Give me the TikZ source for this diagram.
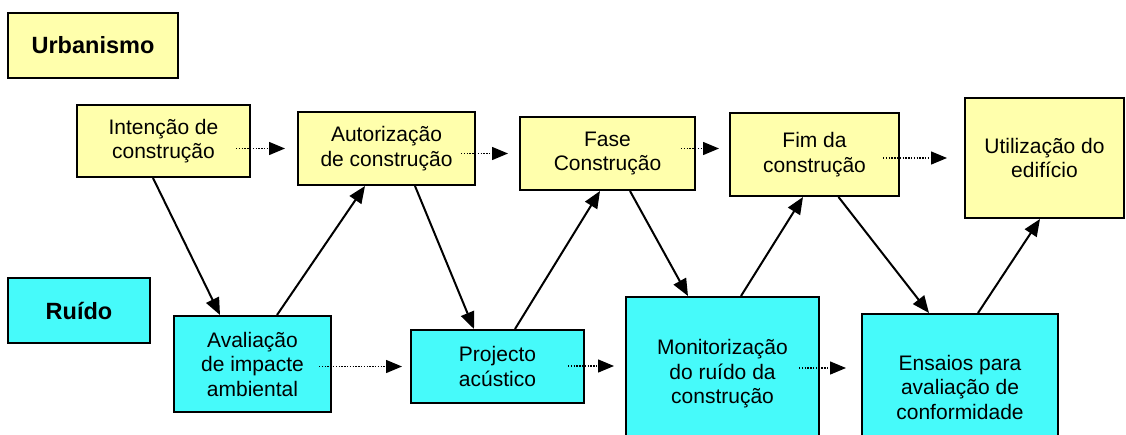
\documentclass[tikz,border=0pt]{standalone}
\usepackage{fontspec}
\setmainfont{Liberation Sans}
\usepackage{xcolor}
\usepackage{tikz}
\usetikzlibrary{arrows.meta,positioning,calc}

\definecolor{urbfill}{RGB}{255,255,172}
\definecolor{ruifill}{RGB}{70,250,250}

\begin{document}
\begin{tikzpicture}[x=1pt, y=-1pt,
  ubox/.style={draw, line width=2pt, fill=urbfill, inner sep=0pt, align=center, font=\fontsize{21}{24.5}\selectfont},
  rbox/.style={draw, line width=2pt, fill=ruifill, inner sep=0pt, align=center, font=\fontsize{21}{24.5}\selectfont},
  arr/.style={line width=2pt, -{Triangle[length=17pt,width=14pt]}},
  dotarr/.style={line width=1.4pt, dash pattern=on 1.4pt off 1.4pt, -{Triangle[length=16pt,width=13pt]}}
]
\useasboundingbox (0,0) rectangle (1126,434);

% Urbanismo row
\node[ubox, minimum width=170pt, minimum height=65pt, font=\fontsize{23.5}{27}\selectfont\bfseries] (urb) at (93,45.5) {Urbanismo};
\node[ubox, minimum width=173pt, minimum height=72pt] (intencao) at (163.5,141) {Intenção de\\construção};
\node[ubox, minimum width=177pt, minimum height=73pt] (autorizacao) at (386.5,148.5) {Autorização\\de construção};
\node[ubox, minimum width=175pt, minimum height=73pt] (fase) at (607.5,153.5) {Fase\\Construção};
\node[ubox, minimum width=169pt, minimum height=83pt] (fim) at (814.5,154.5) {Fim da\\construção};
\node[ubox, minimum width=159pt, minimum height=120pt] (utilizacao) at (1044.5,158) {Utilização do\\edifício};

% Ruido row
\node[rbox, minimum width=142pt, minimum height=65pt, font=\fontsize{23.5}{27}\selectfont\bfseries] (ruido) at (79,310.5) {Ruído};
\node[rbox, minimum width=157pt, minimum height=96pt] (avaliacao) at (252.5,364) {Avaliação\\de impacte\\ambiental};
\node[rbox, minimum width=173pt, minimum height=73pt] (projecto) at (497.5,366.5) {Projecto\\acústico};
\node[rbox, minimum width=193pt, minimum height=154pt] (monit) at (722.5,374) {Monitorização\\do ruído da\\construção};
\node[rbox, minimum width=196pt, minimum height=146pt] (ensaios) at (960,387) {Ensaios para\\avaliação de\\conformidade};

% dotted sequence arrows
\draw[dotarr] ($(intencao.east |- autorizacao.west)+(-15,0)$) -- ($(autorizacao.west)+(-12,0)$);
\draw[dotarr] ($(autorizacao.east |- fase.west)+(-15,0)$) -- ($(fase.west)+(-11,0)$);
\draw[dotarr] ($(fase.east |- fim.west)+(-15,-6)$) -- ($(fim.west)+(-10,-6)$);
\draw[dotarr] ($(fim.east |- utilizacao.west)+(-17,0)$) -- ($(utilizacao.west)+(-17,0)$);
\draw[dotarr] ($(avaliacao.east |- projecto.west)+(-13,0)$) -- ($(projecto.west)+(-8,0)$);
\draw[dotarr] ($(projecto.east |- monit.west)+(-17,-8)$) -- ($(monit.west)+(-11,-8)$);
\draw[dotarr] ($(monit.east |- ensaios.west)+(-21,-19)$) -- ($(ensaios.west)+(-15,-19)$);

% zig-zag between the two rows
\draw[arr] ([xshift=-10.5pt]intencao.south) -- ([xshift=-32.5pt]avaliacao.north);
\draw[arr] ([xshift=24.5pt]avaliacao.north) -- ([xshift=-21.5pt]autorizacao.south);
\draw[arr] ([xshift=28.5pt]autorizacao.south) -- ([xshift=-23.5pt]projecto.north);
\draw[arr] ([xshift=17.5pt]projecto.north) -- ([xshift=-7.5pt]fase.south);
\draw[arr] ([xshift=22.5pt]fase.south) -- ([xshift=-34.5pt]monit.north);
\draw[arr] ([xshift=18.5pt]monit.north) -- ([xshift=-11.5pt]fim.south);
\draw[arr] ([xshift=24pt]fim.south) -- ([xshift=-31pt]ensaios.north);
\draw[arr] ([xshift=18pt]ensaios.north) -- ([xshift=-4.5pt]utilizacao.south);

\end{tikzpicture}
\end{document}
